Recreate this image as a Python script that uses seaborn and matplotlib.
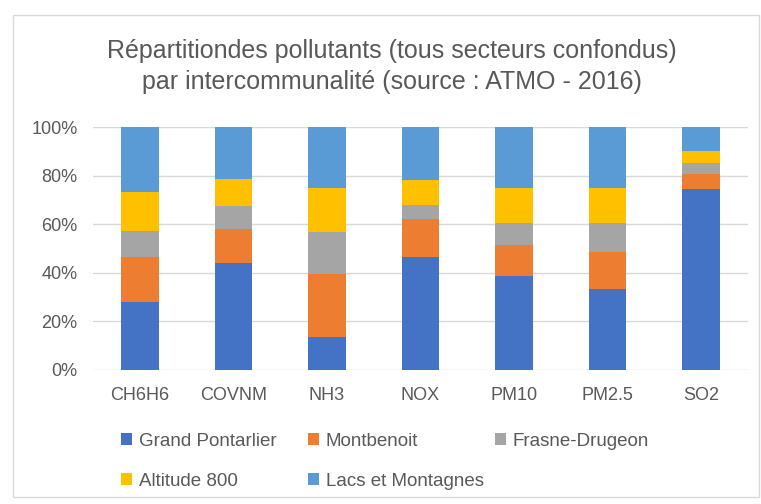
import matplotlib
matplotlib.use("Agg")
import matplotlib.pyplot as plt
from matplotlib.patches import Patch, Rectangle
from matplotlib.ticker import PercentFormatter
import numpy as np
import pandas as pd
import seaborn as sns

# Polluants (catégories) et parts par intercommunalité (%)
polluants = ["CH6H6", "COVNM", "NH3", "NOX", "PM10", "PM2.5", "SO2"]
grand_pontarlier = [28.0, 44.0, 13.7, 46.5, 38.5, 33.5, 74.5]
montbenoit = [18.4, 14.0, 26.0, 15.5, 13.0, 15.0, 6.0]
frasne_drugeon = [11.0, 9.5, 17.0, 6.0, 9.0, 12.0, 4.5]
altitude_800 = [16.0, 11.0, 18.0, 10.0, 14.5, 14.5, 5.0]
lacs_montagnes = [26.6, 21.5, 25.3, 22.0, 25.0, 25.0, 10.0]

series_names = ["Grand Pontarlier", "Montbenoit", "Frasne-Drugeon",
                "Altitude 800", "Lacs et Montagnes"]
series_values = [grand_pontarlier, montbenoit, frasne_drugeon,
                 altitude_800, lacs_montagnes]
colors = ["#4472C4", "#ED7D31", "#A5A5A5", "#FFC000", "#5B9BD5"]

text_color = "#595959"
grid_color = "#D9D9D9"
W, H = 761, 504

sns.set_theme(style="white")
plt.rcParams["font.family"] = ["Liberation Sans", "DejaVu Sans"]

fig = plt.figure(figsize=(W / 100, H / 100), dpi=100)
ax = fig.add_axes([93 / W, 1 - 370 / H, (748 - 93) / W, (370 - 127) / H])

# Normalise each pollutant to 100 % and stack the series
vals = np.array(series_values, dtype=float)
vals = vals / vals.sum(axis=0) * 100.0
cum = np.cumsum(vals, axis=0)

# Draw cumulative totals from the top layer down so each layer shows its own share
for i in range(len(series_names) - 1, -1, -1):
    df = pd.DataFrame({"polluant": polluants, "part": cum[i]})
    sns.barplot(data=df, x="polluant", y="part", color=colors[i],
                width=0.4, saturation=1, ax=ax, zorder=3, linewidth=0)

ax.set_ylim(0, 100)
ax.set_xlim(-0.5, len(polluants) - 0.5)
ax.set_yticks([0, 20, 40, 60, 80, 100])
ax.yaxis.set_major_formatter(PercentFormatter(decimals=0))
ax.grid(axis="y", color=grid_color, linewidth=1, zorder=0)
ax.set_axisbelow(True)
for s in ax.spines.values():
    s.set_visible(False)
ax.set_xlabel("")
ax.set_ylabel("")
ax.tick_params(axis="both", length=0, labelsize=13, labelcolor=text_color)
ax.tick_params(axis="y", pad=11)
ax.tick_params(axis="x", pad=12)

fig.text(392 / W, 1 - 51 / H, "Répartitiondes pollutants (tous secteurs confondus)",
         ha="center", va="center", fontsize=18, color=text_color)
fig.text(392 / W, 1 - 82 / H, "par intercommunalité (source : ATMO - 2016)",
         ha="center", va="center", fontsize=18, color=text_color)

# Legend: three columns, filled row by row
columns = [[0, 3], [1, 4], [2]]
col_x = [121, 308, 495]
for idx, x0 in zip(columns, col_x):
    handles = [Patch(facecolor=colors[i], edgecolor="none", label=series_names[i])
               for i in idx]
    fig.legend(handles=handles, ncol=1, loc="upper left",
               bbox_to_anchor=(x0 / W, 1 - 433 / H), frameon=False,
               fontsize=13.5, labelcolor=text_color, handlelength=0.6,
               handleheight=0.6, handletextpad=0.35, labelspacing=1.2,
               borderaxespad=0, borderpad=0)

# Chart frame
fig.patches.append(Rectangle((13 / W, 1 - 497 / H), (759 - 13) / W,
                             (497 - 15) / H, transform=fig.transFigure,
                             fill=False, edgecolor="#D9D9D9", linewidth=1))

fig.savefig("out.png", dpi=100, facecolor="white")
